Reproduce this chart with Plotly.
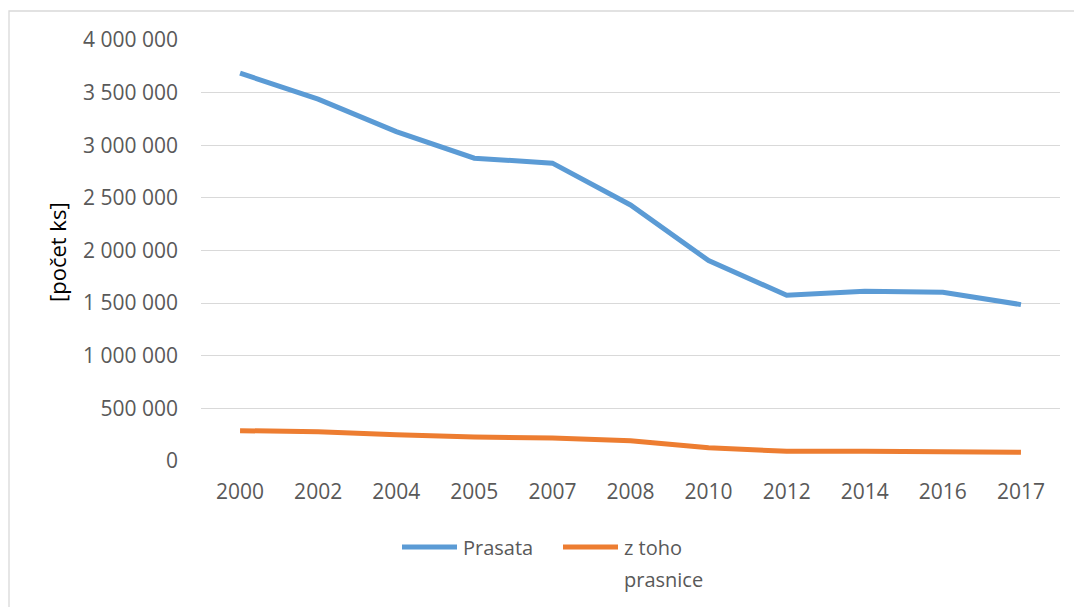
import plotly.graph_objects as go

# Počty prasat v ČR podle let
roky = ["2000", "2002", "2004", "2005", "2007", "2008", "2010", "2012", "2014", "2016", "2017"]
prasata = [3685000, 3438000, 3130000, 2877000, 2830000, 2433000, 1904000, 1575000, 1613000, 1604000, 1486000]
prasnice = [288000, 279000, 250000, 228000, 219000, 193000, 126000, 92000, 92000, 89000, 83000]
y_ticks = [0, 500000, 1000000, 1500000, 2000000, 2500000, 3000000, 3500000, 4000000]

nazvy = ["Prasata", "z toho prasnice"]
barvy = ["#5B9BD5", "#ED7D31"]

W, H = 1074, 607
L, R, T, B = 201, 14, 40, 146
pw, ph = W - L - R, H - T - B

font_family = "Open Sans, DejaVu Sans, sans-serif"
tick_color = "#595959"

fig = go.Figure()
for nazev, hodnoty, barva in zip(nazvy, [prasata, prasnice], barvy):
    fig.add_trace(go.Scatter(x=roky, y=hodnoty, mode="lines", name=nazev,
                             line=dict(color=barva, width=5), showlegend=False))


def px_x(p):
    return (p - L) / pw


def px_y(p):
    return (H - B - p) / ph


# rámeček grafu
shapes = [dict(type="rect", xref="paper", yref="paper",
               x0=px_x(9), x1=px_x(W + 10), y0=px_y(H + 10), y1=px_y(11),
               line=dict(color="#D9D9D9", width=1.3), fillcolor="rgba(0,0,0,0)", layer="below")]

# legenda pod grafem
leg_y = 547
leg_items = [(402, ["Prasata"]), (563, ["z toho", "prasnice"])]
annotations = []
for (x0, radky), barva in zip(leg_items, barvy):
    shapes.append(dict(type="line", xref="paper", yref="paper",
                       x0=px_x(x0), x1=px_x(x0 + 55), y0=px_y(leg_y), y1=px_y(leg_y),
                       line=dict(color=barva, width=5)))
    for i, radek in enumerate(radky):
        annotations.append(dict(text=radek, xref="paper", yref="paper",
                                x=px_x(x0 + 59), y=px_y(leg_y + 32 * i),
                                xanchor="left", yanchor="middle", showarrow=False,
                                font=dict(size=20, color=tick_color)))

annotations.append(dict(text="[počet ks]", xref="paper", yref="paper",
                        x=px_x(57), y=px_y(252), textangle=-90, showarrow=False,
                        font=dict(size=22, color="black"), xanchor="center", yanchor="middle"))

fig.update_layout(
    width=W, height=H,
    margin=dict(l=L, r=R, t=T, b=B, autoexpand=False),
    paper_bgcolor="white", plot_bgcolor="white",
    separators=". ",
    font=dict(family=font_family, size=21, color=tick_color),
    showlegend=False,
    xaxis=dict(type="category", range=[-0.5, len(roky) - 0.5], showgrid=False,
               zeroline=False, showline=False, ticks="",
               tickfont=dict(size=21, color=tick_color), ticklabelstandoff=16),
    yaxis=dict(range=[0, 4000000], tickvals=y_ticks, tickformat=",d",
               showgrid=True, gridcolor="#D9D9D9", gridwidth=1.3, zeroline=False,
               showline=False, ticks="", tickfont=dict(size=21, color=tick_color),
               ticklabelstandoff=22),
    shapes=shapes,
    annotations=annotations,
)

fig.write_html("out.html")
